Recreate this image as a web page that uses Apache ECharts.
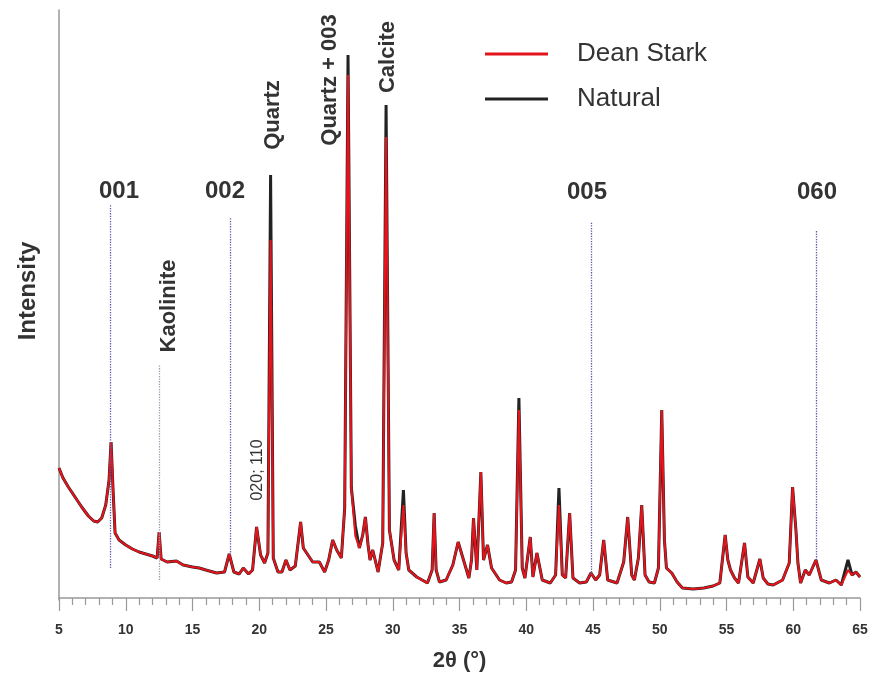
<!DOCTYPE html>
<html>
<head>
<meta charset="utf-8">
<script src="https://cdn.jsdelivr.net/npm/echarts@6/dist/echarts.min.js"></script>
<style>
html,body{margin:0;padding:0;background:#fff;}
#chart{width:872px;height:688px;}
</style>
</head>
<body>
<div id="chart"></div>
<script>
// 2θ positions (degrees)
var twoTheta = [5.0,5.3,5.7,6.2,6.7,7.2,7.6,7.9,8.2,8.5,8.75,8.9,9.05,9.2,9.5,10.0,10.5,11.0,11.5,12.0,12.35,12.5,12.65,13.1,13.8,14.3,15.0,15.5,16.0,16.8,17.4,17.75,18.1,18.5,18.8,19.2,19.5,19.8,20.1,20.4,20.65,20.85,21.05,21.4,21.7,22.0,22.3,22.7,23.1,23.3,23.55,24.0,24.5,24.9,25.2,25.5,25.8,26.15,26.4,26.65,26.9,27.2,27.5,27.75,27.95,28.15,28.3,28.5,28.9,29.25,29.5,29.75,30.1,30.45,30.8,31.0,31.2,31.8,32.6,32.95,33.1,33.25,33.5,34.0,34.5,34.9,35.3,35.7,35.9,36.05,36.3,36.6,36.8,37.1,37.4,37.6,38.0,38.5,38.9,39.2,39.45,39.7,39.9,40.3,40.5,40.8,41.2,41.8,42.2,42.45,42.7,42.95,43.25,43.5,44.0,44.5,44.85,45.2,45.5,45.8,46.1,46.8,47.3,47.6,47.9,48.1,48.4,48.65,48.9,49.2,49.6,49.9,50.15,50.35,50.5,50.9,51.3,51.7,52.5,53.3,54.0,54.5,54.9,55.1,55.3,55.6,55.9,56.35,56.6,57.0,57.5,57.75,58.1,58.5,59.2,59.7,59.95,60.2,60.35,60.55,60.9,61.2,61.7,62.1,62.7,63.2,63.6,64.1,64.4,64.7,65.0];
// Intensity (arbitrary units), Dean Stark sample
var deanStark = [130,120,111,101,91,82,77,76,80,93,118,156,108,65,58,53,49,46,44,42,40,66,39,36,37,33,31,30,28,25,26,44,26,24,30,24,28,71,43,35,45,358,40,26,26,38,28,32,76,50,45,36,36,26,38,58,48,40,90,523,110,62,50,63,81,53,38,48,26,55,461,68,38,28,93,45,28,21,15,28,85,28,16,18,33,56,38,20,38,80,28,126,38,53,30,26,18,15,16,28,188,30,20,61,21,45,18,15,23,93,23,20,85,20,15,16,25,18,23,58,18,15,36,81,23,18,40,93,23,16,15,30,188,58,30,25,16,10,9,10,12,15,63,38,28,20,15,55,21,15,39,20,14,13,18,35,111,68,35,15,28,23,38,18,15,18,13,28,23,26,21];
// Intensity (arbitrary units), Natural sample
var natural = [130,120,111,101,91,82,77,76,80,93,118,156,108,65,58,53,49,46,44,42,40,66,39,36,37,33,31,30,28,25,26,44,26,24,30,24,28,71,43,35,45,423,40,26,26,38,28,32,76,50,45,36,36,26,38,58,48,40,90,543,110,72,50,63,81,53,38,48,26,55,493,68,38,28,108,45,28,21,15,28,85,28,16,18,33,56,38,20,38,80,28,126,38,53,30,26,18,15,16,28,200,30,20,61,21,45,18,15,23,110,23,20,85,20,15,16,25,18,23,58,18,15,36,81,23,18,40,93,23,16,15,30,188,58,30,25,16,10,9,10,12,15,63,38,28,20,15,55,21,15,39,20,14,13,18,35,111,68,35,15,28,23,38,18,15,18,13,38,23,26,21];
// Reference lines: position, lower and upper intensity
var refLinePos = [8.82, 12.5, 17.8, 44.85, 61.7];
var refLineLow = [30, 18, 43, 23, 38];
var refLineHigh = [393, 233, 380, 376, 368];
var refLineColor = ['#5a5aa8', '#9a9aae', '#5a5aa8', '#5a5aa8', '#5a5aa8'];
var xTicks = [5,10,15,20,25,30,35,40,45,50,55,60,65];

function pairs(ys){ return twoTheta.map(function(x,i){ return [x, ys[i]]; }); }

var markData = refLinePos.map(function(p,i){
  return [{coord:[p, refLineLow[i]], lineStyle:{color:refLineColor[i]}}, {coord:[p, refLineHigh[i]]}];
});

var FONT = '"Liberation Sans", Arial, sans-serif';
function vtext(txt, x, y, size, weight){
  return {type:'text', x:x, y:y, rotation:Math.PI/2, z:100,
    style:{text:txt, fill:'#333', fontSize:size, fontWeight:weight, fontFamily:FONT,
      align:'center', verticalAlign:'middle', textAlign:'center', textVerticalAlign:'middle'}};
}
function htext(txt, x, y, size){
  return {type:'text', x:x, y:y, z:100,
    style:{text:txt, fill:'#333', fontSize:size, fontWeight:'bold', fontFamily:FONT,
      align:'center', verticalAlign:'middle', textAlign:'center', textVerticalAlign:'middle'}};
}

var chart = echarts.init(document.getElementById('chart'), null, {renderer:'canvas'});
chart.setOption({
  animation:false,
  backgroundColor:'#fff',
  grid:{left:59, right:12, top:10, bottom:88},
  legend:{
    data:['Dean Stark','Natural'],
    orient:'vertical', left:480, top:36,
    icon:'rect', itemWidth:63, itemHeight:3, itemGap:19,
    textStyle:{fontSize:26, color:'#333', fontFamily:FONT, padding:[0,0,0,24], lineHeight:26}
  },
  xAxis:{
    type:'value', min:5, max:65, interval:5,
    name:'2θ (°)', nameLocation:'middle', nameGap:50,
    nameTextStyle:{fontSize:22, fontWeight:'bold', color:'#333', fontFamily:FONT},
    axisLine:{show:true, lineStyle:{color:'#999', width:1.5}},
    axisTick:{show:true, length:13, lineStyle:{color:'#999', width:1.2}},
    minorTick:{show:true, splitNumber:5, length:7, lineStyle:{color:'#999', width:1.2}},
    axisLabel:{fontSize:14, fontWeight:'bold', color:'#333', margin:23, fontFamily:FONT,
      formatter:function(v){ return xTicks.indexOf(v) >= 0 ? String(v) : ''; }},
    splitLine:{show:false}
  },
  yAxis:{
    type:'value', min:-2, max:588,
    axisLine:{show:true, onZero:false, lineStyle:{color:'#999', width:1.5}},
    axisTick:{show:false}, axisLabel:{show:false}, splitLine:{show:false}
  },
  series:[
    {name:'Natural', type:'line', data:pairs(natural), showSymbol:false, z:2,
     color:'#222', lineStyle:{color:'#222', width:3},
     markLine:{silent:true, symbol:['none','none'], label:{show:false},
       lineStyle:{type:'dotted', width:1.3, color:'#5a5aa8'}, data:markData}},
    {name:'Dean Stark', type:'line', data:pairs(deanStark), showSymbol:false, z:3,
     color:'#e3141b', lineStyle:{color:'#e3141b', width:2.1}}
  ],
  graphic:[
    vtext('Intensity', 28, 291, 24, 'bold'),
    htext('001', 119, 191, 24),
    htext('002', 225, 191, 24),
    htext('005', 587, 192, 24),
    htext('060', 817, 192, 24),
    vtext('Kaolinite', 169, 306, 22, 'bold'),
    vtext('Quartz', 273, 115, 22, 'bold'),
    vtext('Quartz + 003', 330, 80, 22, 'bold'),
    vtext('Calcite', 388, 57, 22, 'bold'),
    vtext('020; 110', 258, 470, 16, 'normal')
  ]
});
</script>
</body>
</html>
